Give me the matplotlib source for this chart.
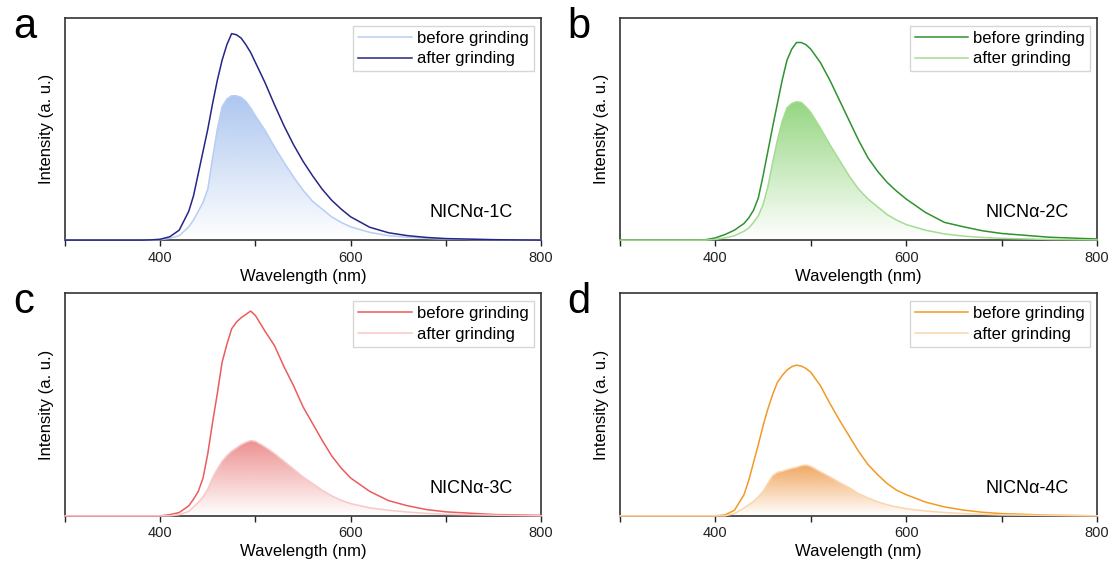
import matplotlib
matplotlib.use('Agg')
import matplotlib.pyplot as plt
import numpy as np
from matplotlib.colors import to_rgb
from matplotlib.ticker import MultipleLocator

plt.rcParams['font.family'] = ['Liberation Sans', 'DejaVu Sans']

# shared wavelength grid (nm)
wavelength = [300, 380, 390, 400, 410, 420,
              430, 435, 440, 445, 450, 455, 460, 465, 470, 475, 480, 485, 490, 495, 500,
              510, 520, 530, 540, 550, 560, 570, 580, 590, 600,
              620, 640, 660, 680, 700, 750, 800]

# intensities (normalised to the axis height)
a_before = [0, 0, 0, 0.002, 0.008, 0.02,
            0.06, 0.09, 0.13, 0.17, 0.23, 0.37, 0.50, 0.60, 0.635, 0.65, 0.65, 0.643, 0.625, 0.595, 0.56,
            0.495, 0.42, 0.35, 0.285, 0.225, 0.175, 0.14, 0.105, 0.08, 0.06,
            0.035, 0.02, 0.013, 0.008, 0.005, 0.002, 0]
a_after = [0, 0, 0.001, 0.004, 0.015, 0.045,
           0.13, 0.2, 0.3, 0.4, 0.5, 0.615, 0.72, 0.81, 0.88, 0.93, 0.925, 0.91, 0.88, 0.845, 0.80,
           0.71, 0.61, 0.515, 0.43, 0.355, 0.29, 0.23, 0.18, 0.14, 0.105,
           0.058, 0.033, 0.02, 0.012, 0.007, 0.002, 0]
b_before = [0, 0, 0.002, 0.01, 0.025, 0.045,
            0.075, 0.10, 0.135, 0.19, 0.29, 0.40, 0.51, 0.615, 0.72, 0.81, 0.86, 0.89, 0.89, 0.88, 0.86,
            0.80, 0.72, 0.63, 0.54, 0.45, 0.37, 0.31, 0.26, 0.22, 0.185,
            0.125, 0.08, 0.06, 0.042, 0.03, 0.013, 0.005]
b_after = [0, 0, 0, 0.003, 0.01, 0.02,
           0.04, 0.055, 0.08, 0.11, 0.16, 0.24, 0.35, 0.45, 0.535, 0.595, 0.615, 0.623, 0.62, 0.60, 0.575,
           0.505, 0.43, 0.36, 0.29, 0.23, 0.185, 0.15, 0.115, 0.09, 0.07,
           0.045, 0.028, 0.018, 0.012, 0.008, 0.003, 0.001]
c_before = [0, 0, 0, 0, 0.005, 0.015,
            0.045, 0.075, 0.11, 0.17, 0.28, 0.42, 0.55, 0.69, 0.77, 0.84, 0.87, 0.89, 0.905, 0.92, 0.90,
            0.83, 0.765, 0.67, 0.585, 0.49, 0.415, 0.34, 0.27, 0.215, 0.17,
            0.11, 0.068, 0.045, 0.028, 0.018, 0.006, 0.002]
c_after = [0, 0, 0, 0, 0, 0.005,
           0.02, 0.04, 0.06, 0.085, 0.12, 0.17, 0.21, 0.245, 0.27, 0.29, 0.305, 0.32, 0.33, 0.338, 0.335,
           0.31, 0.28, 0.245, 0.21, 0.175, 0.145, 0.115, 0.09, 0.07, 0.055,
           0.036, 0.025, 0.017, 0.011, 0.007, 0.003, 0]
d_before = [0, 0, 0, 0, 0.004, 0.025,
            0.095, 0.16, 0.24, 0.32, 0.405, 0.48, 0.545, 0.60, 0.63, 0.655, 0.67, 0.677, 0.673, 0.662, 0.645,
            0.585, 0.505, 0.43, 0.36, 0.29, 0.23, 0.185, 0.145, 0.115, 0.095,
            0.062, 0.04, 0.026, 0.016, 0.01, 0.003, 0]
d_after = [0, 0, 0, 0, 0, 0.01,
           0.035, 0.05, 0.065, 0.085, 0.11, 0.145, 0.18, 0.195, 0.20, 0.207, 0.213, 0.218, 0.225, 0.228, 0.222,
           0.198, 0.175, 0.15, 0.127, 0.10, 0.08, 0.063, 0.05, 0.04, 0.032,
           0.022, 0.015, 0.01, 0.007, 0.004, 0.002, 0]

samples = ['NICNα-1C', 'NICNα-2C', 'NICNα-3C', 'NICNα-4C']
letters = ['a', 'b', 'c', 'd']

# (before, after, before colour, after colour, fill colour, which one is filled)
panels = [
    (a_before, a_after, '#b8cdf2', '#262686', '#a9c4ef', 'before'),
    (b_before, b_after, '#2f922f', '#a5dc92', '#8fd47a', 'after'),
    (c_before, c_after, '#ec5b5e', '#f8c8c8', '#ec8a8a', 'after'),
    (d_before, d_after, '#f39a25', '#fad6ad', '#f0a45a', 'after'),
]

positions = [
    [0.0585, 0.575, 0.4285, 0.393],
    [0.558, 0.575, 0.4295, 0.393],
    [0.0585, 0.087, 0.4285, 0.394],
    [0.558, 0.087, 0.4295, 0.394],
]

fig = plt.figure(figsize=(11.11, 5.65), dpi=100)
wl = np.array(wavelength)

for i, (before, after, c_bef, c_aft, c_fill, filled) in enumerate(panels):
    ax = fig.add_axes(positions[i])
    before = np.array(before)
    after = np.array(after)

    # gradient fill under the weaker curve
    fill_y = before if filled == 'before' else after
    poly = ax.fill_between(wl, 0, fill_y, color='none', lw=0)
    top = fill_y.max()
    rgb = np.array(to_rgb(c_fill))
    grad = np.zeros((256, 2, 4))
    t = np.linspace(0, 1, 256)[:, None]
    grad[:, :, :3] = rgb
    grad[:, :, 3] = t * 0.95
    img = ax.imshow(grad, extent=(300, 800, 0, top), origin='lower', aspect='auto', zorder=1)
    img.set_clip_path(poly.get_paths()[0], transform=ax.transData)

    ax.plot(wl, before, color=c_bef, lw=1.1, label='before grinding', zorder=3, clip_on=False)
    ax.plot(wl, after, color=c_aft, lw=1.1, label='after grinding', zorder=3, clip_on=False)

    ax.set_xlim(300, 800)
    ax.set_ylim(0, 1.0)
    ax.set_xticks([400, 600, 800])
    ax.xaxis.set_minor_locator(MultipleLocator(100))
    ax.tick_params(axis='x', which='both', direction='out', length=4, width=1, labelsize=10.5, colors='#222222')
    ax.tick_params(axis='y', left=False, labelleft=False)
    for s in ax.spines.values():
        s.set_color('#333333')
        s.set_linewidth(1.2)
        s.set_zorder(2)

    ax.set_xlabel('Wavelength (nm)', fontsize=12, labelpad=3)
    ax.set_ylabel('Intensity (a. u.)', fontsize=12, labelpad=8)

    leg = ax.legend(loc='upper right', fontsize=12, frameon=True, fancybox=False,
                    edgecolor='#cccccc', handlelength=3.2, handletextpad=0.3,
                    borderpad=0.3, labelspacing=0.35, borderaxespad=0.45)
    leg.get_frame().set_linewidth(1.0)

    ax.text(0.94, 0.125, samples[i], transform=ax.transAxes, ha='right', va='center', fontsize=13)

    fig.text(positions[i][0] - 0.047, positions[i][1] + positions[i][3] - 0.015, letters[i],
             fontsize=30, ha='left', va='center')

plt.savefig('out.png', dpi=100)
